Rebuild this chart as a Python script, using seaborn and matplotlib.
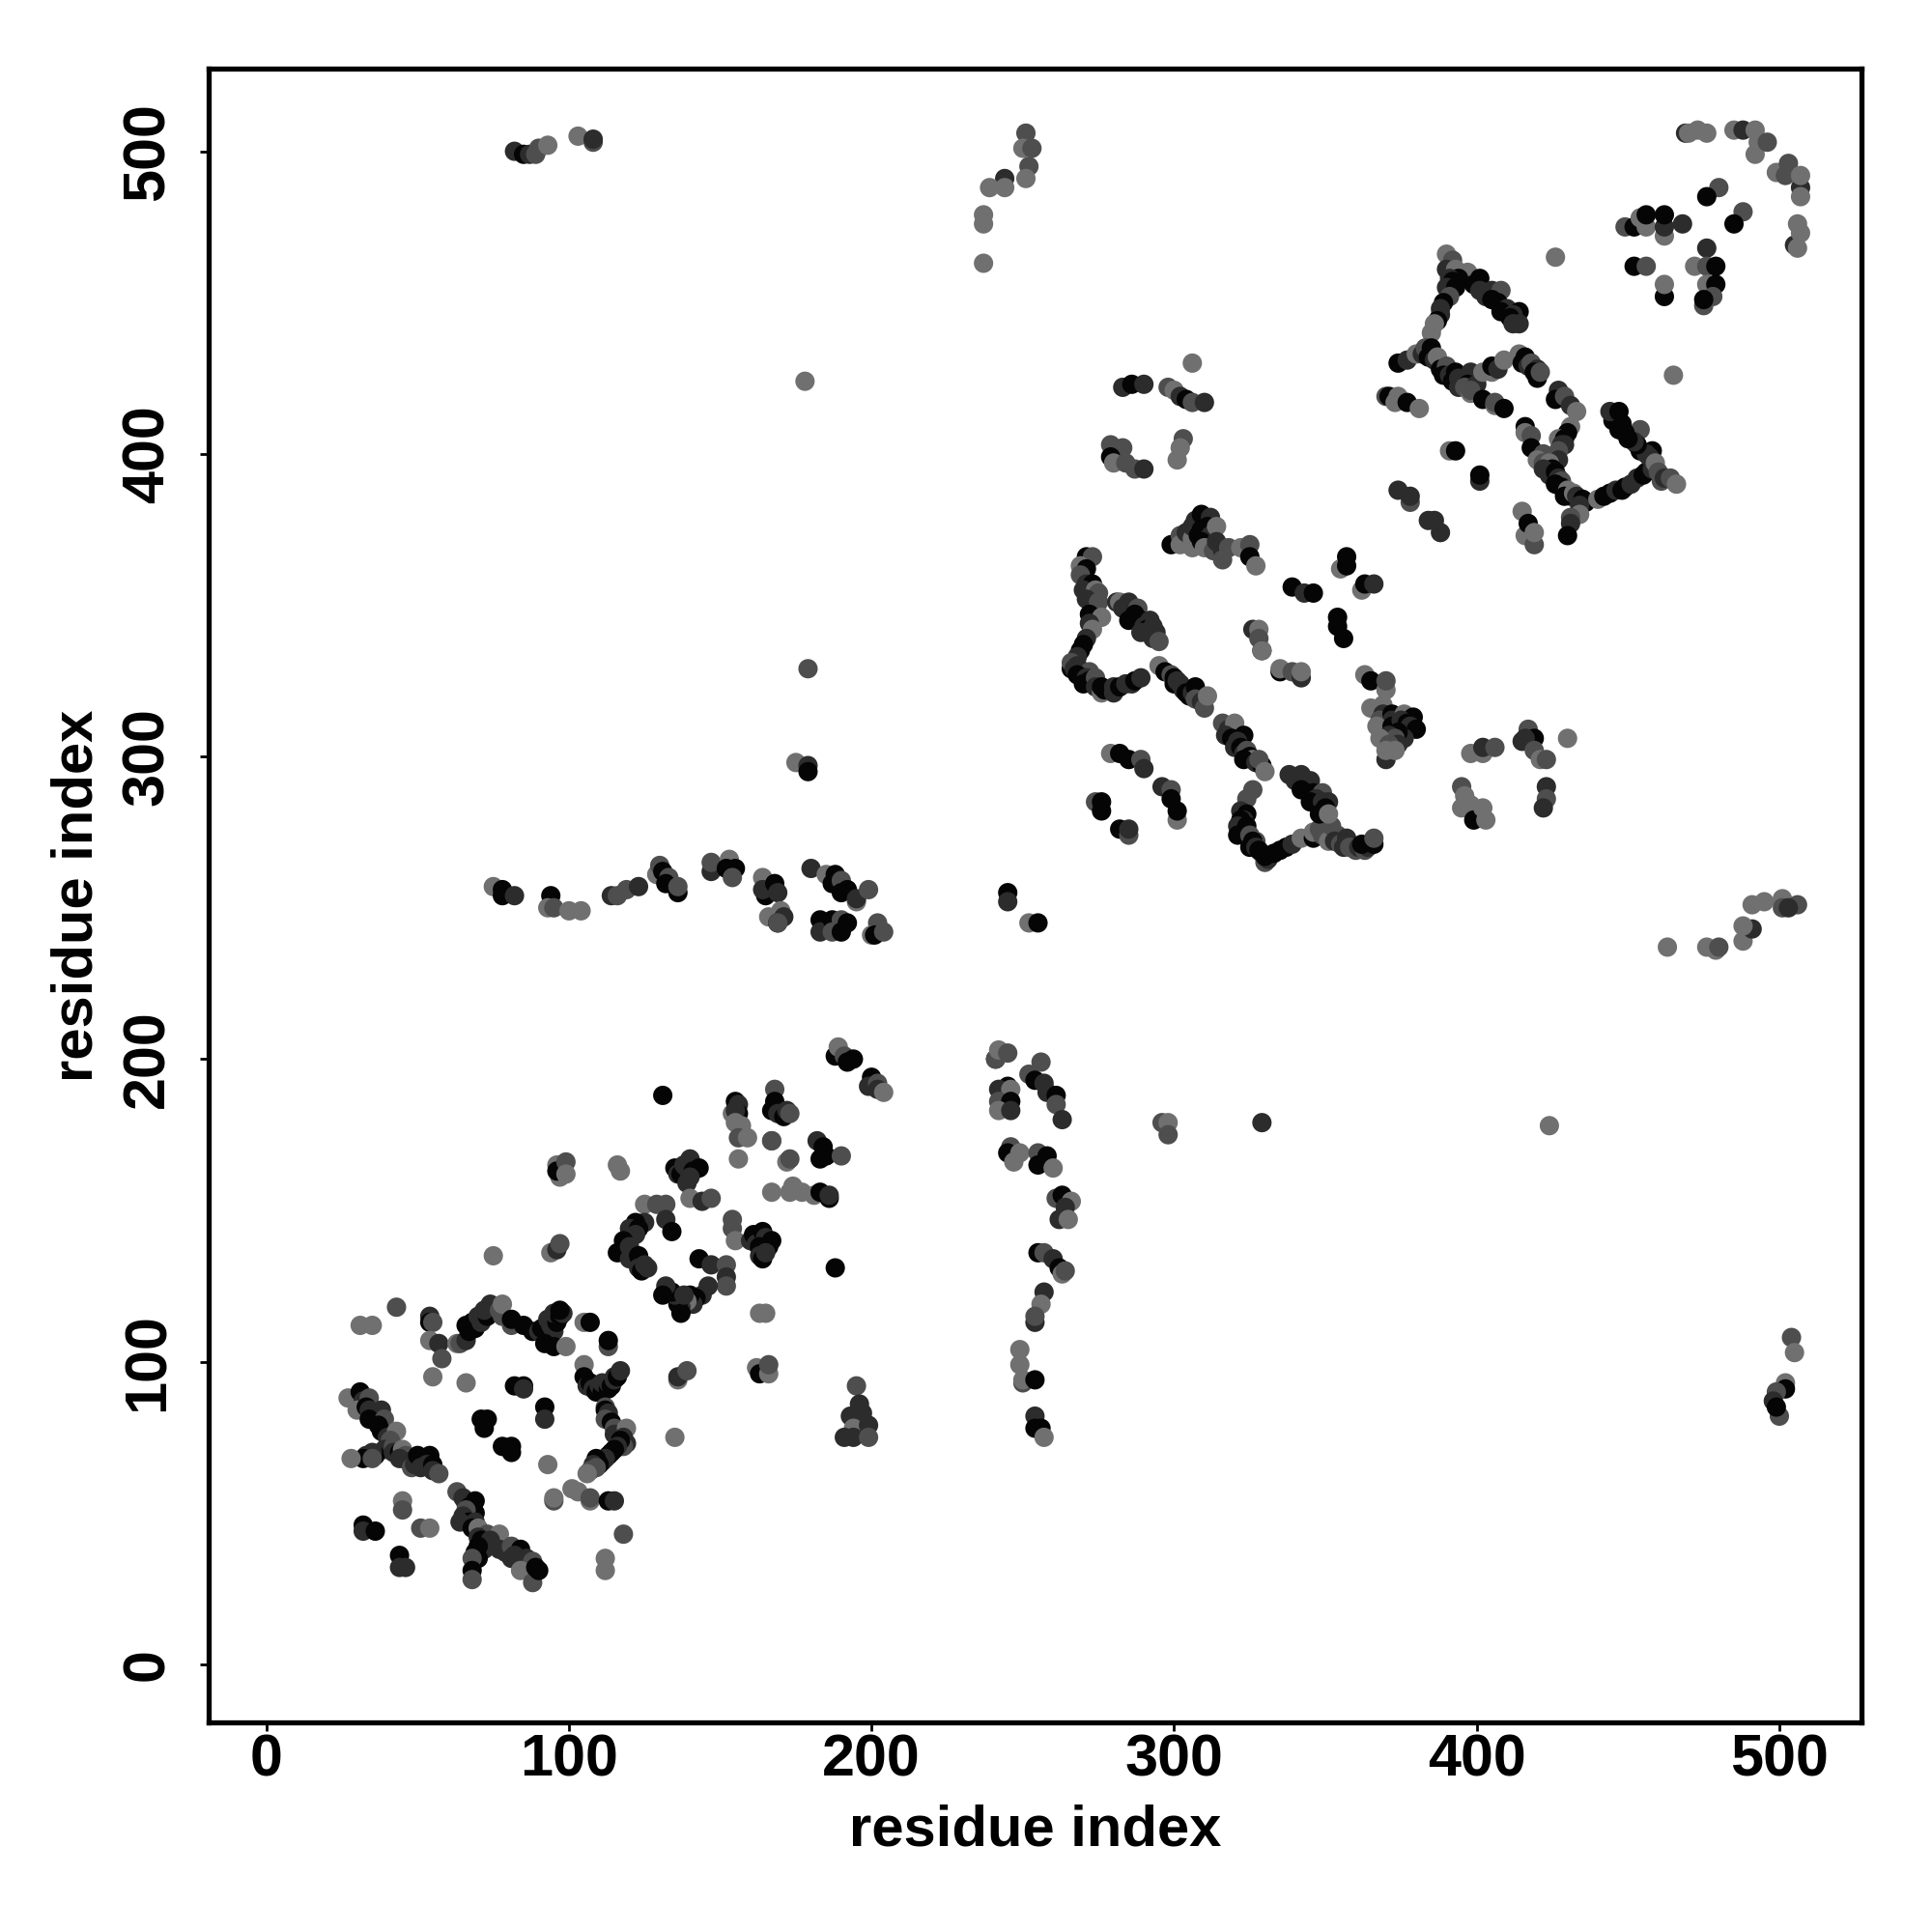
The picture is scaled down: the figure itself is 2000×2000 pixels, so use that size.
import matplotlib
matplotlib.use("Agg")
import matplotlib.pyplot as plt
import pandas as pd
import seaborn as sns

# (residue i, residue j, shade class), drawn in this order
ring_a = [(31,112,3),(35,112,3),(43,118,2),(54,115,1),(54,113,0),(55,113,2),(54,107,3),(57,106,1),(58,101,2),(55,95,3),(66,93,3),
(63,106,3),(64,106,2),(66,107,1),(67,110,0),(69,111,0),(66,112,0),(68,113,0),(71,113,1),(70,115,1),(73,115,0),(72,117,1),(75,118,1),(76,118,1),(74,119,1),(77,117,2),(78,115,2),(78,119,3),(81,112,2),(81,114,0),(85,112,0),
(88,110,0),(90,110,1),(91,111,0),(93,109,0),(93,114,1),(95,110,1),(94,112,1),(96,113,0),(95,116,1),(97,115,0),(98,116,1),(97,117,0),(92,106,0),(95,105,0),(99,105,3),(105,113,3),(107,113,0),(113,105,2),(113,107,0),
(105,99,3),(105,95,0),(106,92,1),(107,93,0),(108,91,1),(109,90,0),(110,92,1),(111,90,0),(111,93,1),(113,91,0),(113,93,1),(114,92,0),(115,94,1),(115,95,1),(116,95,0),(117,97,1),(112,85,2),(112,84,0),(113,83,1),(112,81,2),(114,80,0),(115,78,2),(115,76,1),(119,78,3),
(119,73,1),(118,75,1),(118,72,2),(117,74,0),(116,72,1),(115,71,0),(114,70,0),(113,69,0),(112,68,1),(111,67,1),(109,68,0),(110,66,0),(108,66,1),(109,65,2),(107,64,2),(106,63,3),(101,58,3),(103,57,3),(95,54,2),(95,55,3),
(107,54,3),(107,55,2),(113,54,0),(115,54,1),(118,43,2),(112,35,3),(112,31,3)]
ring_inner = [(71,81,0),(73,81,0),(72,78,0),(78,72,0),(81,72,0),(81,70,0),(82,92,0),(85,92,0),(85,91,1),(92,85,0),(92,81,1),(93,66,3),
(136,94,3),(136,95,1),(139,97,2),(135,75,3),(75,135,3),(94,136,3),(96,137,1),(97,139,2)]
bar_left = [(27,88,3),(31,90,0),(32,87,1),(34,88,2),(30,84,3),(33,85,0),(34,84,1),(36,83,1),(38,84,1),(34,81,0),(39,81,2),(37,79,0),(38,77,0),(40,75,1),(43,77,3),(41,74,2),(39,71,1),(36,69,0),(33,69,1),(35,70,1),(32,68,0),(28,68,3),
(35,68,2),(42,72,2),(42,70,1),(44,70,0),(45,71,3),(46,69,2),(44,68,1),(47,67,1),(48,65,2),(49,66,1),(50,69,0),(52,67,0),(54,69,0),(53,66,1),(51,65,1),(55,66,0),(55,64,1),(57,63,2)]
bar_low = [(63,57,2),(65,55,1),(66,53,1),(69,54,0),(67,52,0),(69,50,0),(66,51,2),(65,49,1),(67,47,0),(64,47,1),(69,47,1),(68,45,0),(70,45,3),(73,43,2),(77,43,3),(70,42,1),(71,41,0),(74,41,1),(72,38,1),(70,39,0),(69,37,0),(77,38,1),(79,37,1),(81,39,2),
(84,38,0),(82,36,1),(81,35,1),(86,35,1),(88,34,2),(84,31,3),(88,27,2),(89,32,0),(90,31,0),(70,35,0),(68,35,2),(68,31,0),(68,28,2),
(45,54,3),(45,51,2),(32,46,0),(32,44,1),(36,44,0),(51,45,2),(54,45,3),(44,36,0),(44,32,1),(46,32,1)]
band_mid = [(97,161,3),(96,165,3),(96,163,0),(99,166,2),(99,162,3),(116,165,3),(117,163,3),(131,188,0),
(154,182,3),(155,186,0),(156,185,1),(156,182,0),(155,183,1),(155,179,3),(157,178,3),(157,176,3),(156,174,2),(159,174,3),(156,167,3),
(168,190,2),(168,186,0),(167,183,0),(169,182,1),(171,181,0),(172,183,1),(173,182,2),(167,173,3),(167,173,2),(172,166,3),(173,167,2),
(167,156,3),(174,158,3),(173,156,3),(177,156,3),(181,155,3),(183,156,0),(186,154,0),(186,155,1),
(182,173,1),(184,171,0),(183,167,0),(185,168,0),(190,168,2),(188,131,0),
(188,201,0),(189,204,3),(191,201,2),(192,199,0),(194,200,0),(200,194,0),(199,191,1),(202,192,2),(202,190,1),(204,189,3)]
column_250 = [(241,200,0),(241,200,2),(242,203,3),(245,202,2),(256,199,2),(252,195,2),(254,193,0),(257,192,1),(258,189,1),(261,188,0),(261,185,2),(263,180,1),
(245,191,0),(242,190,1),(246,190,3),(242,186,2),(246,186,0),(242,183,3),(246,183,1),
(246,171,2),(245,169,0),(247,166,3),(249,169,3),(255,169,2),(258,168,0),(255,165,0),(260,164,3),
(261,154,2),(263,155,0),(266,153,3),(264,151,1),(262,147,1),(265,147,3),
(255,136,0),(257,136,2),(260,134,1),(262,131,0),(263,129,3),(264,130,2),
(257,123,1),(256,119,3),(254,113,1),(254,115,2),(249,104,3),(249,99,3),(250,93,2),(250,94,3),(254,94,0),
(254,82,1),(254,78,0),(256,78,0),(257,75,3),
(195,92,2),(196,86,1),(197,83,1),(193,82,1),(194,78,3),(199,79,1),(191,75,1),(194,75,1),(199,75,2),
(162,98,3),(163,96,0),(166,96,3),(166,99,2)]
square = [(135,164,0),(136,162,1),(137,162,0),(138,165,1),(139,164,1),(140,167,1),(141,165,1),(141,163,0),(143,164,0),(140,161,1),(139,159,1),(140,154,3),(144,153,1),(147,154,2),
(125,152,3),(129,152,2),(132,152,2),(132,147,1),(134,143,0),(125,146,1),(122,146,0),(120,144,1),(123,144,0),(122,142,1),(118,140,0),(116,136,0),(119,136,0),(120,138,1),(120,134,1),(121,135,1),(123,135,0),(123,131,1),(124,130,0),(126,131,1),(125,132,1),
(154,147,2),(154,144,2),(155,140,3),(160,140,1),(161,142,0),(162,139,1),(164,143,0),(165,141,1),(167,140,0),(166,138,0),(163,138,0),(163,135,1),(164,134,0),(165,136,1),
(143,134,0),(147,132,1),(152,132,2),(152,128,1),(152,125,2),(146,125,1),(144,122,1),(142,121,0),(141,119,1),(140,122,0),(139,120,3),(137,118,1),(137,116,0),(136,119,0),(135,122,1),(134,123,0),(132,125,1),(131,122,0),(138,122,1),
(163,116,3),(165,116,3)]
row_250 = [(75,257,3),(78,256,0),(78,254,0),(82,254,1),(94,254,0),(93,250,3),(95,250,2),(100,249,3),(104,249,3),
(114,254,1),(116,254,2),(119,256,2),(123,257,1),(129,261,3),(130,264,2),(131,262,0),(133,260,2),(132,258,0),(136,255,0),(136,257,2),
(147,262,1),(147,265,2),(153,266,3),(152,263,0),(155,263,0),(154,260,2),(164,260,3),(165,254,0),(164,256,1),(168,258,0),(169,255,1),
(166,247,3),(170,249,3),(169,245,0),(171,247,1),(169,245,2),(180,263,1),
(185,261,3),(188,261,0),(187,258,0),(190,259,2),(192,256,0),(190,255,0),(195,252,3),(195,253,1),(199,256,2),
(183,246,0),(183,242,1),(187,246,0),(187,242,2),(190,246,2),(192,245,0),(190,242,0),(202,245,2),(200,241,3),(201,241,0),(204,242,2)]
far_points = [(82,500,1),(85,499,0),(87,499,1),(89,499,2),(90,501,2),(93,502,3),(103,505,3),(108,503,2),(108,504,1),
(251,506,2),(250,501,3),(253,501,2),(252,495,2),(251,491,3),(244,491,1),(239,488,3),(244,488,3),(237,479,3),(237,476,3),(237,463,3),
(178,424,3),(179,329,2),(175,298,3),(179,297,1),(179,295,0),(245,255,0),(245,252,1),(252,245,3),(255,245,0),
(296,179,2),(298,179,3),(298,175,2),(329,179,1),(424,178,3),
(504,108,2),(505,103,3),(502,93,3),(502,91,0),(499,90,2),(498,87,1),(500,82,2),(499,85,0),
(463,237,3),(476,237,3),(479,236,3),(480,237,2),(488,239,3),(491,243,1),(488,244,3),(491,251,3),(495,252,3),(501,253,3),(501,250,2),(506,251,2),(503,250,1)]
top_370 = [(299,370,0),(302,373,2),(302,370,3),(304,374,1),(306,372,3),(306,369,3),(306,376,1),(307,378,1),(309,375,0),(308,373,0),(309,380,0),(312,379,1),(311,376,0),(312,373,1),(309,371,0),(314,376,3),(310,369,3),(313,368,2),(314,371,1),(316,368,1),(318,369,2),(316,365,2),
(322,369,3),(325,370,2),(325,366,0),(327,363,3),
(339,356,0),(343,354,1),(346,354,0),(355,362,3),(357,366,0),(357,363,0),(362,355,3),(363,357,0),(366,357,1),(354,346,0),(354,343,0),(356,339,0)]
triangle_one = [(271,366,0),(273,366,2),(269,363,3),(271,362,0),(269,360,2),(271,357,1),(273,357,0),(270,355,1),(274,355,3),(275,354,2),(271,352,1),(274,349,1),(275,351,2),(281,351,1),(282,351,3),(285,351,1),(283,349,1),(288,349,2),(287,347,0),
(285,345,0),(289,345,0),(290,343,1),(292,345,1),(291,342,0),(293,343,1),(294,341,1),(289,341,1),(293,339,1),(295,338,2),(272,347,0),(273,346,0),(276,346,3),(272,344,1),(273,342,3),(271,339,1),(270,337,0),(269,335,0),(268,333,1),(266,329,0),(266,331,2),(267,329,1),(268,330,1),(272,328,2),
(268,327,0),(271,326,1),(270,324,0),(272,325,0),(274,326,2),(274,323,1),(276,321,3),(276,323,0),(277,322,0),(279,322,0),(280,323,1),(280,321,1),(282,323,0),(284,324,1),(286,324,1),(287,325,0),(289,326,1),
(295,330,3),(297,328,0),(299,327,2),(300,326,0),(300,324,0),(301,325,1),(302,324,1),(303,322,1),(304,321,0),(305,320,0),(306,321,1),(307,323,0),(307,319,2),(309,318,1),(310,316,2),(311,320,3)]
chain_310 = [(316,311,2),(318,309,1),(320,311,3),(317,307,1),(319,306,0),(323,307,0),(321,305,1),(320,303,1),(322,303,0),(323,301,1),(324,302,2),(325,300,0),(326,299,3),(323,299,0),(327,298,1),(329,297,0),(328,299,2),(330,295,3)]
triangle_two = [(326,289,2),(324,286,2),(322,282,1),(324,281,0),(323,279,1),(322,279,0),(321,277,1),(324,277,0),(321,274,0),(323,275,0),(325,274,2),(327,272,2),(326,272,0),(325,270,0),(327,270,1),(329,268,2),(328,269,0),(330,265,2),(331,266,1),(330,267,0),
(333,268,0),(335,269,0),(337,270,0),(339,271,1),(342,273,3),(346,273,0),(346,275,3),(348,276,2),(349,274,2),(351,272,3),(352,277,2),(354,274,2),(353,272,1),(355,271,2),(357,273,1),(356,270,1),(358,270,2),(360,269,2),(361,270,1),(363,269,2),(364,270,1),(362,271,0),(366,271,0),(366,273,2),
(338,294,1),(340,292,1),(342,294,1),(345,292,1),(344,290,1),(342,289,0),(346,288,0),(349,288,2),(347,286,1),(345,285,0),(349,285,1),(351,285,1),(350,283,0),(348,281,0),(351,281,3)]
block_280 = [(279,301,3),(282,301,0),(285,299,0),(289,299,2),(290,296,1),(296,290,1),(299,289,2),(299,286,0),(301,279,3),(301,282,0),(274,285,2),(276,285,0),(276,282,0),
(282,276,0),(285,274,2),(285,276,1),(326,342,1),(328,342,3),(328,339,2),(329,335,0),(329,335,3),(335,328,0),(335,329,3),(339,328,2),(342,326,1),(342,328,3),
(363,327,3),(365,325,0),(370,322,3),(370,325,2),(369,317,3),(365,316,3),(369,314,1),(368,312,2),(372,314,0),(372,312,1),(376,314,3),(379,313,0),(367,310,3),(372,310,0),(375,312,1),(377,311,0),(378,310,1),(380,309,0),
(376,306,1),(374,308,0),(371,307,1),(373,306,2),(368,306,3),(374,304,1),(371,304,2),(370,299,1),(370,302,3),(373,302,3)]
block_400 = [(398,301,3),(402,301,3),(402,303,1),(406,303,2),(395,290,2),(396,287,3),(395,283,3),(398,284,3),(399,279,0),(402,283,3),(403,279,3),
(417,309,2),(415,305,1),(419,306,0),(416,306,1),(419,302,2),(421,299,3),(423,299,2),(430,306,3),(423,290,1),(423,286,2),(422,283,1)]
corner_top = [(469,506,1),(470,506,3),(473,507,3),(476,506,3),(485,507,3),(488,507,1),(492,507,3),(493,503,3),(492,499,3),(496,503,2),(499,493,3),(503,496,2),(502,492,2),(507,488,1),(507,492,3),(507,485,3),
(506,476,3),(505,469,1),(507,473,3),(506,468,3),(480,488,2),(476,485,0),(488,480,2),(485,476,0),
(449,475,2),(452,475,0),(454,478,3),(456,475,3),(456,479,0),(462,472,3),(462,475,1),(462,479,0),(468,476,1),
(452,462,0),(456,462,2),(462,452,0),(462,456,3),(476,468,1),(472,462,3),(476,462,2),(479,462,0),(476,456,3),(479,456,0),(475,449,2),(478,452,2),(475,451,0),(426,465,3),(465,426,3)]
triangle_three = [(390,466,3),(392,464,2),(390,461,1),(393,460,1),(393,461,3),(397,460,3),(394,458,0),(391,458,1),(392,457,0),(399,456,0),(401,458,0),(390,455,1),(393,455,0),(401,454,1),(403,452,1),(405,454,1),(408,454,2),(405,451,0),(407,450,0),(391,452,2),(389,450,0),(410,448,1),(408,447,0),(414,447,0),(412,446,1),(411,445,0),(412,443,1),(414,443,1),
(388,448,1),(388,446,1),(387,444,0),(386,443,3),(385,440,3),(374,430,0),(377,431,1),(380,433,3),(382,433,1),(383,435,2),(385,435,0),(384,432,0),(386,431,1),(387,432,3),(388,428,0),(390,429,2),(389,426,0),(391,426,1),(393,427,0),(392,424,0),(394,425,1),(394,422,1),(398,427,1),(397,423,0),(396,422,2),(400,423,1),(398,420,3),(398,421,2),(402,427,3),(405,427,3),(405,429,0),(407,428,1),(409,431,3),
(414,433,3),(416,432,0),(415,430,0),(417,429,1),(418,430,2),(420,428,1),(419,427,0),(420,425,0),(421,427,2),(370,419,2),(371,419,0),(374,419,3),(373,417,3),(377,417,0),(381,415,3),(402,418,0),(406,416,3),(406,417,2),(409,415,0)]
triangle_four = [(427,421,1),(426,418,0),(429,419,2),(431,416,1),(433,414,3),(416,409,0),(416,407,3),(418,406,2),(418,402,0),(431,409,3),(430,407,0),(427,405,3),(429,405,0),(428,403,1),(429,403,1),(427,401,2),(422,400,2),(427,398,1),(420,398,3),(422,397,2),(424,397,3),(425,395,0),(422,395,1),(424,393,1),
(426,394,0),(427,392,1),(428,391,2),(428,389,0),(426,390,0),(430,388,3),(431,386,1),(429,386,0),(432,387,3),(433,386,1),(436,384,0),(435,385,0),(434,383,1),(434,380,3),(431,379,2),(431,377,1),(430,373,0),
(440,385,3),(442,386,0),(444,387,0),(446,388,1),(448,388,0),(449,389,0),(451,390,1),(453,392,1),(455,393,0),(456,394,0),(458,395,1),(458,401,0),(454,401,0),(456,400,1),(457,399,1),(454,408,2),(453,403,0),(452,404,1),(450,405,0),(449,407,0),(447,408,0),(448,410,0),(445,411,0),(444,414,1),(447,414,0),(459,397,3),(460,394,2),(461,391,2),(462,392,1),(464,392,2),(466,390,3),
(391,401,3),(393,401,0),(401,391,1),(401,393,0),(374,388,1),(378,384,2),(378,386,1),(384,378,1),(386,378,1),(388,374,1),(415,381,3),(416,373,3),(417,377,0),(419,370,2),(419,374,3)]
block_420 = [(283,422,1),(286,423,0),(290,423,1),(298,422,2),(300,421,3),(306,430,3),(302,419,1),(304,418,0),(306,417,2),(310,417,1),(303,405,2),(302,402,3),(301,398,3),
(279,403,2),(283,402,2),(279,399,0),(280,397,3),(284,397,2),(287,395,2),(290,395,1)]

x_ticks = [0, 100, 200, 300, 400, 500]
y_ticks = [0, 100, 200, 300, 400, 500]
shade_colors = {0: "#050505", 1: "#2c2c2c", 2: "#4e4e4e", 3: "#707070"}

contacts = (ring_a + ring_inner + bar_left + bar_low + band_mid + column_250 + square + row_250 + far_points
            + top_370 + triangle_one + chain_310 + triangle_two + block_280 + block_400 + corner_top
            + triangle_three + triangle_four + block_420)
df = pd.DataFrame(contacts, columns=["i", "j", "shade"])

sns.set_theme(style="white")
plt.rcParams["font.family"] = ["Liberation Sans", "DejaVu Sans"]
plt.rcParams["font.weight"] = "bold"

fig = plt.figure(figsize=(10, 10), dpi=200)
ax = fig.add_axes([0.1078, 0.1085, 0.8558, 0.8558])
sns.scatterplot(data=df, x="i", y="j", hue="shade", palette=shade_colors, s=52, linewidth=0, alpha=1, legend=False, ax=ax)

ax.set_xlim(-19.2, 527.2)
ax.set_ylim(-19.2, 527.2)
ax.set_xticks(x_ticks)
ax.set_yticks(y_ticks)
ax.tick_params(axis="both", length=3.2, width=1.0, color="black", labelsize=22, labelcolor="black", bottom=True, left=True)
ax.tick_params(axis="x", pad=0.8)
ax.tick_params(axis="y", pad=8.8)
for lab in ax.get_yticklabels():
    lab.set_rotation(90)
    lab.set_va("center")
for side in ax.spines.values():
    side.set_linewidth(1.9)
    side.set_color("black")
ax.set_xlabel("residue index", fontsize=21.5, fontweight="bold", color="black")
ax.set_ylabel("residue index", fontsize=21.5, fontweight="bold", color="black")
ax.xaxis.set_label_coords(0.5, -0.0495)
ax.yaxis.set_label_coords(-0.063, 0.5)

fig.savefig("out.png", dpi=200, facecolor="white")
